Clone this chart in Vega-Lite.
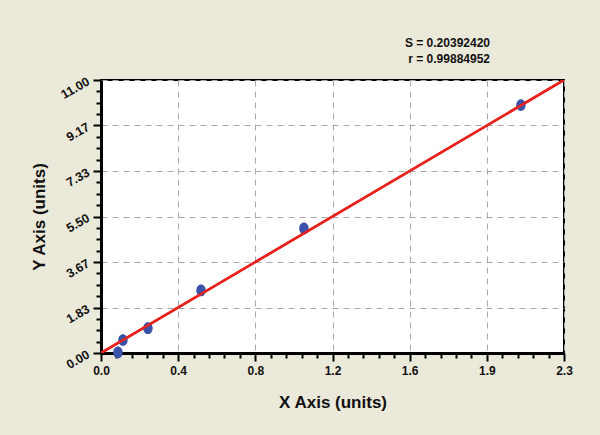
{
  "$schema": "https://vega.github.io/schema/vega-lite/v6.json",
  "autosize": {"type": "none"},
  "width": 463,
  "height": 273,
  "padding": {"left": 101, "top": 80, "right": 36, "bottom": 82},
  "background": "#EBE9DA",
  "config": {
    "view": {"fill": "white", "stroke": "black", "strokeWidth": 2},
    "font": "Liberation Sans"
  },
  "title": {
    "text": ["S = 0.20392420", "r = 0.99884952"],
    "anchor": "end",
    "frame": "group",
    "align": "right",
    "dx": -74,
    "offset": 9,
    "fontSize": 12,
    "fontWeight": "bold",
    "lineHeight": 16,
    "color": "#111"
  },
  "datasets": {
    "points": [
      {"x": 0.084, "y": 0.02},
      {"x": 0.109, "y": 0.52},
      {"x": 0.233, "y": 1.0},
      {"x": 0.497, "y": 2.52},
      {"x": 1.008, "y": 5.02},
      {"x": 2.086, "y": 9.99}
    ],
    "fit": [
      {"x": 0.0, "y": 0.0},
      {"x": 2.3, "y": 11.0}
    ]
  },
  "layer": [
    {
      "data": {"name": "fit"},
      "mark": {"type": "line", "color": "#E8231E", "strokeWidth": 2.5, "clip": true},
      "encoding": {
        "x": {
          "field": "x", "type": "quantitative",
          "scale": {"domain": [0, 2.3], "nice": false, "zero": false},
          "axis": {
            "title": "X Axis (units)",
            "tickCount": 100,
            "values": [0, 0.07667, 0.15333, 0.23, 0.30667, 0.38333, 0.46, 0.53667, 0.61333, 0.69, 0.76667, 0.84333, 0.92, 0.99667, 1.07333, 1.15, 1.22667, 1.30333, 1.38, 1.45667, 1.53333, 1.61, 1.68667, 1.76333, 1.84, 1.91667, 1.99333, 2.07, 2.14667, 2.22333, 2.3],
            "labelExpr": "abs(datum.value/0.383333 - round(datum.value/0.383333)) < 0.01 ? ['0.0','0.4','0.8','1.2','1.6','1.9','2.3'][round(datum.value/0.383333)] : ''",
            "labelFontSize": 12,
            "labelFontWeight": "bold",
            "labelColor": "#111",
            "labelPadding": 4,
            "labelOverlap": false,
            "labelFlush": false,
            "domainColor": "black",
            "domainWidth": 3,
            "tickColor": "black",
            "tickWidth": 2,
            "tickSize": {"condition": {"test": "abs(datum.value/0.383333 - round(datum.value/0.383333)) < 0.01", "value": 8}, "value": 5},
            "grid": true,
            "gridColor": "#A8A8A8",
            "gridDash": [6, 5],
            "gridWidth": 1,
            "gridOpacity": {"condition": {"test": "abs(datum.value/0.383333 - round(datum.value/0.383333)) < 0.01", "value": 1}, "value": 0},
            "titleFontSize": 17,
            "titleFontWeight": "bold",
            "titleColor": "#111",
            "titlePadding": 18
          }
        },
        "y": {
          "field": "y", "type": "quantitative",
          "scale": {"domain": [0, 11], "nice": false, "zero": false},
          "axis": {
            "title": "Y Axis (units)",
            "tickCount": 100,
            "values": [0, 0.45833, 0.91667, 1.375, 1.83333, 2.29167, 2.75, 3.20833, 3.66667, 4.125, 4.58333, 5.04167, 5.5, 5.95833, 6.41667, 6.875, 7.33333, 7.79167, 8.25, 8.70833, 9.16667, 9.625, 10.08333, 10.54167, 11],
            "labelExpr": "abs(datum.value/1.833333 - round(datum.value/1.833333)) < 0.01 ? ['0.00','1.83','3.67','5.50','7.33','9.17','11.00'][round(datum.value/1.833333)] : ''",
            "labelFontSize": 12.5,
            "labelFontWeight": "bold",
            "labelColor": "#111",
            "labelAngle": -30,
            "labelAlign": "right",
            "labelBaseline": "middle",
            "labelPadding": 5,
            "labelOverlap": false,
            "labelFlush": false,
            "domainColor": "black",
            "domainWidth": 3,
            "tickColor": "black",
            "tickWidth": 2,
            "tickSize": {"condition": {"test": "abs(datum.value/1.833333 - round(datum.value/1.833333)) < 0.01", "value": 8}, "value": 5},
            "grid": true,
            "gridColor": "#A8A8A8",
            "gridDash": [6, 5],
            "gridWidth": 1,
            "gridOpacity": {"condition": {"test": "abs(datum.value/1.833333 - round(datum.value/1.833333)) < 0.01", "value": 1}, "value": 0},
            "titleFontSize": 17,
            "titleFontWeight": "bold",
            "titleColor": "#111",
            "titlePadding": 10
          }
        }
      }
    },
    {
      "data": {"name": "points"},
      "mark": {
        "type": "point",
        "filled": true,
        "shape": "M -0.8 0 A 0.8 1 0 1 1 0.8 0 A 0.8 1 0 1 1 -0.8 0 Z",
        "size": 140,
        "color": "#3A53A8",
        "opacity": 1
      },
      "encoding": {
        "x": {"field": "x", "type": "quantitative"},
        "y": {"field": "y", "type": "quantitative"}
      }
    },
    {
      "data": {"name": "fit"},
      "mark": {"type": "line", "color": "#E8231E", "strokeWidth": 2.5, "clip": true},
      "encoding": {
        "x": {"field": "x", "type": "quantitative"},
        "y": {"field": "y", "type": "quantitative"}
      }
    }
  ]
}
